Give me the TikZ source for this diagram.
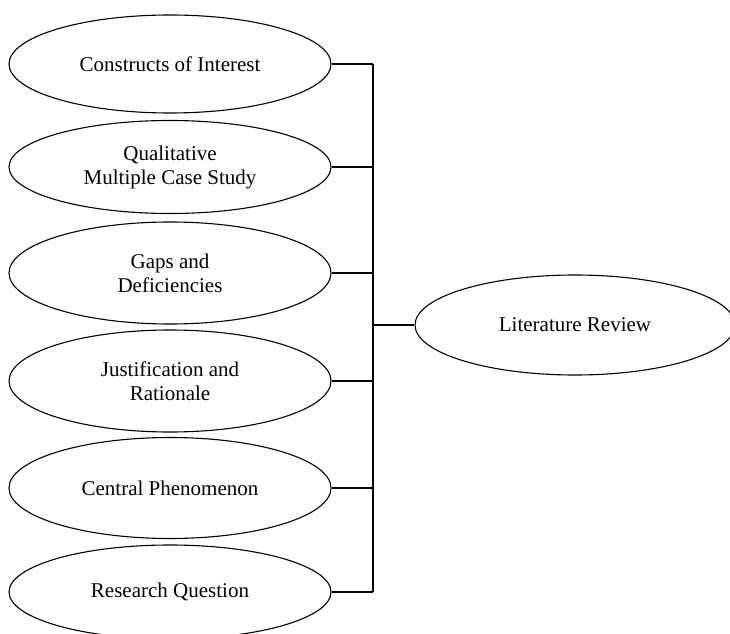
\documentclass[tikz,border=0pt]{standalone}
\usepackage{fontspec}
\setmainfont{Liberation Serif}
\usepackage{tikz}
\usetikzlibrary{shapes.geometric, positioning, calc}

\begin{document}
\begin{tikzpicture}[
  x=1pt, y=1pt,
  every node/.style={font=\fontsize{21}{24}\selectfont},
  oval/.style={ellipse, draw, line width=1.1pt, minimum width=322pt, minimum height=100pt, inner sep=0pt, align=center},
  link/.style={line width=1.1pt}
]
\useasboundingbox (0,0) rectangle (730,633);
% left column: six topics, evenly stacked
\node[oval, minimum height=98pt]  (constructs) at (170, 569) {Constructs of Interest};
\node[oval, minimum height=93pt]  (qualit)     at (170, 466) {Qualitative\\Multiple Case Study};
\node[oval, minimum height=102pt] (gaps)       at (170, 360) {Gaps and\\Deficiencies};
\node[oval, minimum height=102pt] (justif)     at (170, 252) {Justification and\\Rationale};
\node[oval, minimum height=101pt] (central)    at (170, 145) {Central Phenomenon};
\node[oval, minimum height=94pt]  (question)   at (170, 41)  {Research Question};
% right: the review everything feeds into
\node[oval, minimum width=320pt]  (litrev)     at (575, 308) {Literature Review};

% bus line joining the column
\coordinate (bustop) at (373, 569);
\coordinate (busbot) at (373, 41);
\draw[link] (bustop) -- (busbot);

% stubs from each topic to the bus
\draw[link] (constructs.east) -- (constructs.east -| bustop);
\draw[link] (qualit.east)     -- (qualit.east -| bustop);
\draw[link] (gaps.east)       -- (gaps.east -| bustop);
\draw[link] (justif.east)     -- (justif.east -| bustop);
\draw[link] (central.east)    -- (central.east -| bustop);
\draw[link] (question.east)   -- (question.east -| bustop);

% bus -> Literature Review
\draw[link] (litrev.west -| bustop) -- (litrev.west);
\end{tikzpicture}
\end{document}
